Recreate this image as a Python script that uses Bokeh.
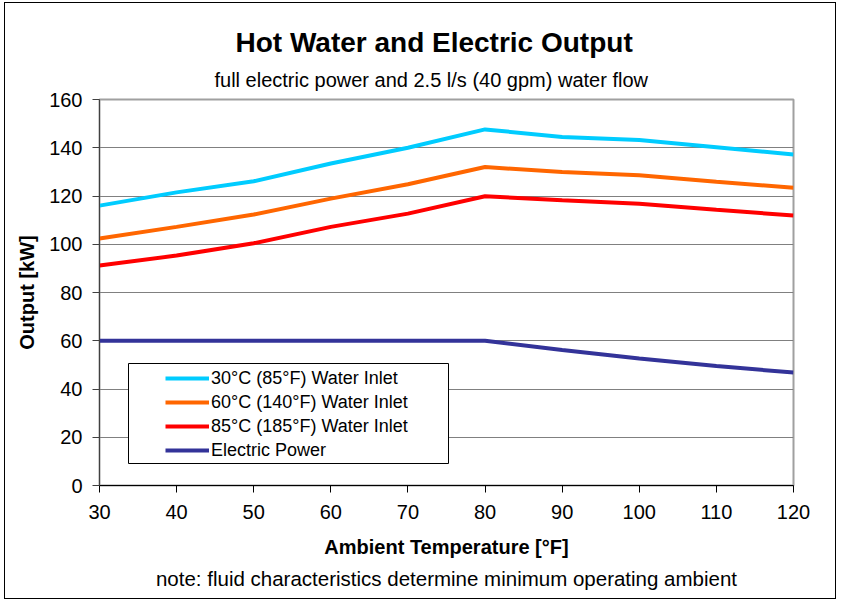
from bokeh.plotting import figure
from bokeh.models import Title, Legend, LegendItem, Range1d, SingleIntervalTicker, BoxAnnotation
from bokeh.embed import file_html
from bokeh.resources import INLINE

temps = [30, 40, 50, 60, 70, 80, 90, 100, 110, 120]
inlet_30c = [116.0, 121.5, 126.1, 133.5, 140.0, 147.6, 144.5, 143.2, 140.2, 137.2]
inlet_60c = [102.4, 107.2, 112.3, 118.9, 124.9, 132.0, 129.9, 128.6, 125.9, 123.4]
inlet_85c = [91.2, 95.3, 100.4, 107.2, 112.7, 119.9, 118.2, 116.8, 114.3, 111.9]
electric = [60, 60, 60, 60, 60, 60, 56.2, 52.6, 49.5, 46.8]

series_names = ["30°C (85°F) Water Inlet", "60°C (140°F) Water Inlet",
                "85°C (185°F) Water Inlet", "Electric Power"]
series_values = [inlet_30c, inlet_60c, inlet_85c, electric]
series_colors = ["#00CCFF", "#FF6600", "#FF0000", "#333399"]

FONT = "Liberation Sans"

p = figure(width=832, height=597, output_backend="svg", toolbar_location=None,
           x_range=Range1d(30, 120), y_range=Range1d(0, 160),
           min_border_left=94, min_border_right=44, min_border_top=96, min_border_bottom=115)
p.styles = {"border": "1px solid black", "margin-left": "4px", "margin-top": "2px"}
p.background_fill_color = "white"
p.border_fill_color = "white"
p.outline_line_color = "#A0A0A0"
p.outline_line_width = 2

items = []
for name, vals, col in zip(series_names, series_values, series_colors):
    r = p.line(temps, vals, line_color=col, line_width=4)
    items.append(LegendItem(label=name, renderers=[r]))

# axes
p.xaxis.ticker = SingleIntervalTicker(interval=10)
p.yaxis.ticker = SingleIntervalTicker(interval=20)
p.xgrid.visible = False
p.ygrid.grid_line_color = "#808080"
p.ygrid.grid_line_width = 1
for ax in (p.xaxis[0], p.yaxis[0]):
    ax.major_tick_in = 0
    ax.major_tick_out = 7
    ax.minor_tick_line_color = None
    ax.major_label_text_font = FONT
    ax.major_label_text_font_size = "20px"
    ax.major_label_text_color = "black"
    ax.axis_label_text_font = FONT
    ax.axis_label_text_font_size = "20px"
    ax.axis_label_text_font_style = "bold"
    ax.axis_label_text_color = "black"
p.xaxis.axis_line_color = "black"
p.yaxis.axis_line_color = "#404040"
p.xaxis.major_tick_line_color = "black"
p.yaxis.major_tick_line_color = "#404040"
p.xaxis.major_label_standoff = 12
p.yaxis.major_label_standoff = 10
p.xaxis.axis_label = "Ambient Temperature [°F]"
p.yaxis.axis_label = "Output [kW]"
p.xaxis.axis_label_standoff = 14
p.yaxis.axis_label_standoff = 8

# titles
p.add_layout(Title(text="full electric power and 2.5 l/s (40 gpm) water flow", align="left",
                   text_font=FONT, text_font_size="20px", text_font_style="normal",
                   text_color="black", standoff=18, offset=115), "above")
p.add_layout(Title(text="Hot Water and Electric Output", align="left",
                   text_font=FONT, text_font_size="28px", text_font_style="bold",
                   text_color="black", standoff=0, offset=136), "above")
p.add_layout(Title(text="note: fluid characteristics determine minimum operating ambient",
                   align="center", text_font=FONT, text_font_size="20.5px",
                   text_font_style="normal", text_color="black", standoff=8), "below")

# legend frame
legend_box = BoxAnnotation(left=29, right=349, bottom=22, top=122,
                           left_units="screen", right_units="screen",
                           bottom_units="screen", top_units="screen",
                           fill_color="white", fill_alpha=1.0,
                           line_color="black", line_alpha=1.0, line_width=1)
p.add_layout(legend_box)

legend = Legend(items=items, location=(66, 23), padding=3, spacing=0,
                glyph_width=44, glyph_height=24, label_height=24,
                label_standoff=2, label_text_font=FONT, label_text_font_size="18px",
                label_text_color="black",
                border_line_color=None, background_fill_alpha=0.0)
p.add_layout(legend, "center")

open("out.html", "w").write(file_html(p, INLINE))
